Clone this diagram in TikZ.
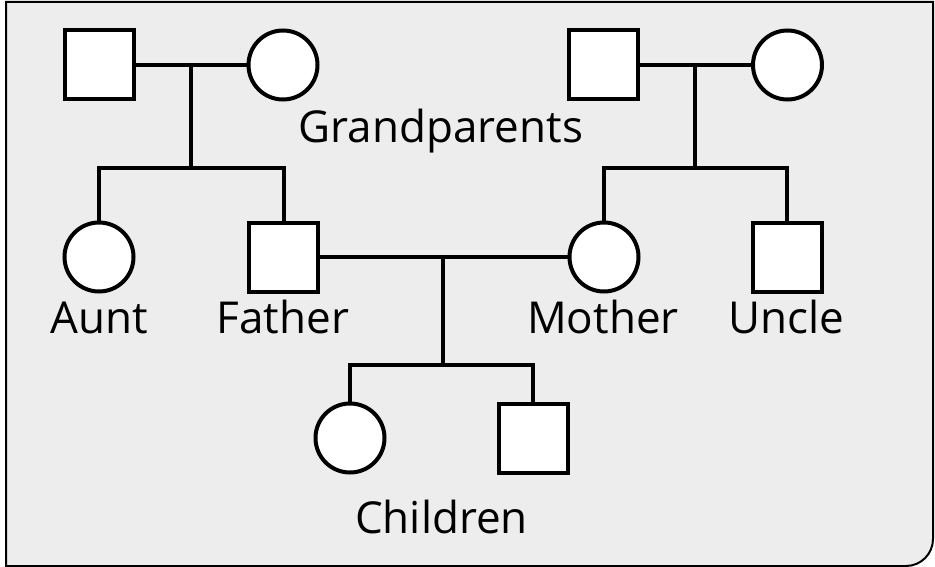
\documentclass[tikz,border=0pt]{standalone}
\usepackage{fontspec}
\setmainfont{Open Sans}
\definecolor{bgray}{HTML}{EDEDED}
\begin{document}
\begin{tikzpicture}[x=1pt,y=-1pt,
  person/.style={draw=black,line width=4pt,fill=white,inner sep=0pt,outer sep=0pt,minimum size=69pt},
  sq/.style={person,rectangle},
  ci/.style={person,circle},
  lbl/.style={font=\fontsize{44}{52}\selectfont,anchor=base,inner sep=0pt},
  ln/.style={line width=4pt}]
\useasboundingbox (0,0) rectangle (935,567);
\draw[line width=2pt,fill=bgray] (6,2) -- (933,2) -- (933,539) arc[start angle=0,end angle=90,radius=27] -- (6,566) -- cycle;
% grandparents left
\node[sq] (gf1) at (99.5,65) {};
\node[ci] (gm1) at (283,65) {};
% grandparents right
\node[sq] (gf2) at (603.5,65) {};
\node[ci] (gm2) at (787.5,65) {};
% middle generation
\node[ci] (aunt) at (99,257) {};
\node[sq] (father) at (283.5,257) {};
\node[ci] (mother) at (604,257) {};
\node[sq] (uncle) at (787,257) {};
% children
\node[ci] (daughter) at (350,438) {};
\node[sq] (son) at (533,438) {};
% junctions
\coordinate (j1) at (191,65);
\coordinate (s1) at (191,168);
\coordinate (j2) at (695,65);
\coordinate (s2) at (695,168);
\coordinate (j3) at (443,257);
\coordinate (s3) at (443,365);
% connectors
\draw[ln] (gf1) -- (gm1);
\draw[ln] (j1) -- (s1);
\draw[ln] (aunt.north) |- (s1) -| (father.north);
\draw[ln] (gf2) -- (gm2);
\draw[ln] (j2) -- (s2);
\draw[ln] (mother.north) |- (s2) -| (uncle.north);
\draw[ln] (father) -- (mother);
\draw[ln] (j3) -- (s3);
\draw[ln] (daughter.north) |- (s3) -| (son.north);
% labels
\node[lbl] (tgp) at (441,143) {Grandparents};
\node[lbl] (taunt) at (99.5,333) {Aunt};
\node[lbl] (tfather) at (283,333) {Father};
\node[lbl] (tmother) at (603,333) {Mother};
\node[lbl] (tuncle) at (786,333) {Uncle};
\node[lbl] (tchildren) at (441.5,533) {Children};
\end{tikzpicture}
\end{document}
